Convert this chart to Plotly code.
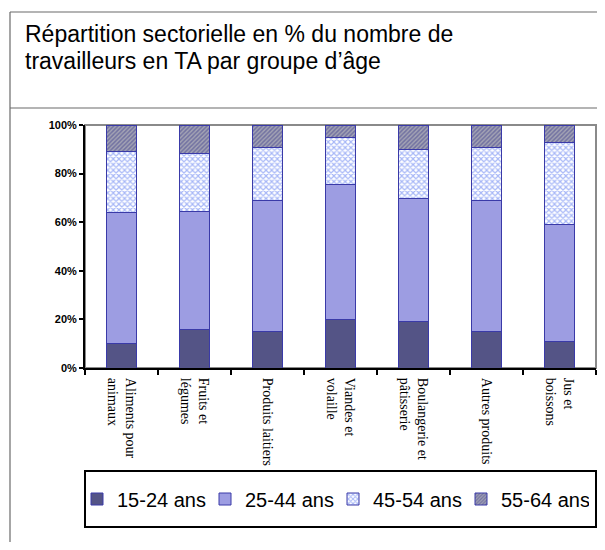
import plotly.graph_objects as go

OFF = 8                            # page body margin of the browser
W, H = 605 - 2 * OFF, 550 - 2 * OFF  # keep the page free of scrollbars

categories = [
    "Aliments pour<br>animaux",
    "Fruits et<br>légumes",
    "Produits laitiers",
    "Viandes et<br>volaille",
    "Boulangerie et<br>pâtisserie",
    "Autres produits",
    "Jus et<br>boissons",
]
age_15_24 = [10.0, 16.0, 15.0, 20.0, 19.3, 15.2, 10.8]
age_25_44 = [54.0, 48.6, 54.0, 55.5, 50.5, 53.9, 48.2]
age_45_54 = [25.0, 23.7, 21.7, 19.2, 20.2, 21.7, 33.6]
age_55_64 = [11.0, 11.7, 9.3, 5.3, 10.0, 9.2, 7.4]
series_names = ["15-24 ans", "25-44 ans", "45-54 ans", "55-64 ans"]
y_ticks = [0, 20, 40, 60, 80, 100]
title_lines = ["Répartition sectorielle en % du nombre de",
               "travailleurs en TA par groupe d’âge"]

def px_x(p):
    return (p - OFF) / W

def px_y(p):
    return 1 - (p - OFF) / H

outline = dict(color="#3a3aa8", width=1)

fig = go.Figure()
fig.add_trace(go.Bar(
    x=categories, y=age_15_24, name=series_names[0],
    marker=dict(color="#545486", line=outline),
))
fig.add_trace(go.Bar(
    x=categories, y=age_25_44, name=series_names[1],
    marker=dict(color="#9d9de2", line=outline),
))
fig.add_trace(go.Bar(
    x=categories, y=age_45_54, name=series_names[2],
    marker=dict(color="#ffffff", line=outline,
                pattern=dict(shape="x", fgcolor="#4f70f0", size=4,
                             solidity=0.5, fillmode="overlay")),
))
fig.add_trace(go.Bar(
    x=categories, y=age_55_64, name=series_names[3],
    marker=dict(color="#a4a4b4", line=outline,
                pattern=dict(shape="/", fgcolor="#3e3e8e", size=3,
                             solidity=0.5, fillmode="overlay")),
))

x0, x1 = px_x(85), px_x(596)
y0, y1 = px_y(368), px_y(125)

shapes = [
    dict(type="line", xref="paper", yref="paper", x0=px_x(10), x1=1.0,
         y0=px_y(12), y1=px_y(12), line=dict(color="#6a6a6a", width=1.2)),
    dict(type="line", xref="paper", yref="paper", x0=px_x(10), x1=px_x(10),
         y0=px_y(12), y1=0, line=dict(color="#6a6a6a", width=1.2)),
    dict(type="line", xref="paper", yref="paper", x0=px_x(10), x1=1.0,
         y0=px_y(108), y1=px_y(108), line=dict(color="#6a6a6a", width=1.2)),
    dict(type="rect", xref="paper", yref="paper", x0=x0, x1=x1, y0=y0, y1=y1,
         line=dict(color="#8a8a8a", width=2), layer="below"),
    dict(type="rect", xref="paper", yref="paper", x0=px_x(85), x1=px_x(596),
         y0=px_y(527), y1=px_y(471), line=dict(color="black", width=2),
         fillcolor="white", layer="above"),
]

title_font = dict(size=23, family="Liberation Sans, Arial, sans-serif", color="black")
annotations = [
    dict(text=title_lines[0], xref="paper", yref="paper", x=px_x(23), y=px_y(34),
         xanchor="left", yanchor="middle", showarrow=False, font=title_font),
    dict(text=title_lines[1], xref="paper", yref="paper", x=px_x(23), y=px_y(61),
         xanchor="left", yanchor="middle", showarrow=False, font=title_font),
]

fig.update_layout(
    width=W, height=H, autosize=False,
    margin=dict(l=0, r=0, t=0, b=0, autoexpand=False),
    paper_bgcolor="white", plot_bgcolor="white",
    barmode="stack", bargap=0.59,
    font=dict(family="Liberation Sans, Arial, sans-serif", color="black"),
    shapes=shapes,
    annotations=annotations,
    xaxis=dict(
        domain=[x0, x1], type="category",
        showline=True, linecolor="black", linewidth=2,
        ticks="outside", tickson="boundaries", ticklen=5, tickwidth=1.5, tickcolor="black",
        tickangle=90, ticklabelstandoff=5,
        tickfont=dict(family="Liberation Serif, Times New Roman, serif", size=14, color="black"),
        showgrid=False, zeroline=False, fixedrange=True,
    ),
    yaxis=dict(
        domain=[y0, y1], range=[0, 100],
        tickvals=y_ticks, ticktext=[f"{v}%" for v in y_ticks],
        showline=True, linecolor="black", linewidth=2,
        ticks="outside", ticklen=4, tickwidth=1.5, tickcolor="black",
        tickfont=dict(family="Liberation Sans, Arial, sans-serif", size=11, color="black",
                      weight="bold"),
        showgrid=False, zeroline=False, fixedrange=True,
    ),
    legend=dict(
        orientation="h", traceorder="normal",
        x=px_x(77), y=px_y(499), xanchor="left", yanchor="middle",
        entrywidth=83, entrywidthmode="pixels", itemwidth=30,
        bgcolor="rgba(0,0,0,0)", borderwidth=0,
        font=dict(size=20, family="Liberation Sans, Arial, sans-serif", color="black"),
    ),
    showlegend=True,
)

fig.write_html("out.html")
